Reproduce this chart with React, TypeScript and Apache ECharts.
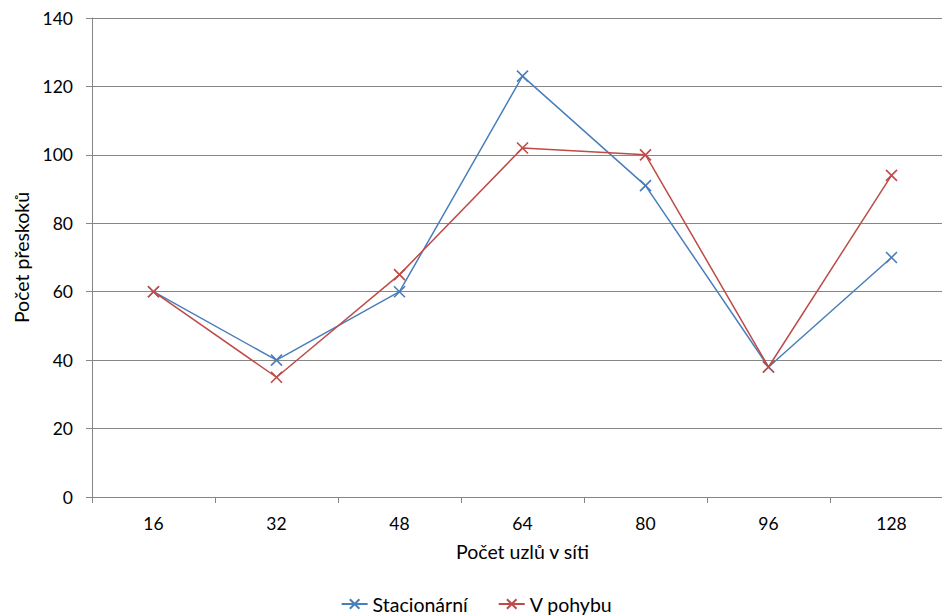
import React, { useEffect, useRef } from "react";
import * as echarts from "echarts";

const categories = ["16", "32", "48", "64", "80", "96", "128"];
const stacionarni = [60, 40, 60, 123, 91, 38, 70];
const vPohybu = [60, 35, 65, 102, 100, 38, 94];
const seriesNames = ["Stacionární", "V pohybu"];
const xTitle = "Počet uzlů v síti";
const yTitle = "Počet přeskoků";

const FONT = "Lato";
const XSYM = "path://M0,0L10,10M10,0L0,10";

export default function App() {
  const ref = useRef<HTMLDivElement>(null);
  useEffect(() => {
    const chart = echarts.init(ref.current!, undefined, { renderer: "svg" });
    const mk = (name: string, data: number[], color: string) => ({
      name,
      type: "line",
      data,
      symbol: XSYM,
      symbolSize: 11,
      showSymbol: true,
      lineStyle: { color, width: 1.5 },
      itemStyle: { color: "rgba(0,0,0,0)", borderColor: color, borderWidth: 1.6 },
    });
    chart.setOption({
      animation: false,
      textStyle: { fontFamily: FONT },
      grid: { left: 92, top: 18, right: 0, bottom: 119, containLabel: false },
      legend: {
        top: 589,
        left: "center",
        itemGap: 30,
        itemWidth: 26,
        itemHeight: 12,
        textStyle: { fontSize: 19.5, color: "#000", fontFamily: FONT },
        data: seriesNames,
      },
      xAxis: {
        type: "category",
        data: categories,
        boundaryGap: true,
        name: xTitle,
        nameLocation: "middle",
        nameGap: 44,
        nameTextStyle: { fontSize: 19.5, color: "#000", fontFamily: FONT },
        axisLine: { lineStyle: { color: "#868686", width: 1 } },
        axisTick: { show: true, length: 6, lineStyle: { color: "#868686" } },
        axisLabel: { fontSize: 17.5, color: "#000", margin: 17, fontFamily: FONT },
        splitLine: { show: false },
      },
      yAxis: {
        type: "value",
        min: 0,
        max: 140,
        interval: 20,
        name: yTitle,
        nameLocation: "middle",
        nameGap: 60,
        nameRotate: 90,
        nameTextStyle: { fontSize: 19.5, color: "#000", fontFamily: FONT },
        axisLine: { show: true, lineStyle: { color: "#868686", width: 1 } },
        axisTick: { show: true, length: 6, lineStyle: { color: "#868686" } },
        axisLabel: { fontSize: 17.5, color: "#000", margin: 19, fontFamily: FONT },
        splitLine: { show: true, lineStyle: { color: "#868686", width: 1 } },
      },
      series: [
        mk(seriesNames[0], stacionarni, "#4A7EBB"),
        mk(seriesNames[1], vPohybu, "#BE4B48"),
      ],
    });
    return () => chart.dispose();
  }, []);
  return (
    <div
      style={{ position: "fixed", left: 0, top: 0, width: 942, height: 616, overflow: "hidden", background: "#fff" }}
    >
      <div ref={ref} style={{ width: 953, height: 616 }} />
    </div>
  );
}
